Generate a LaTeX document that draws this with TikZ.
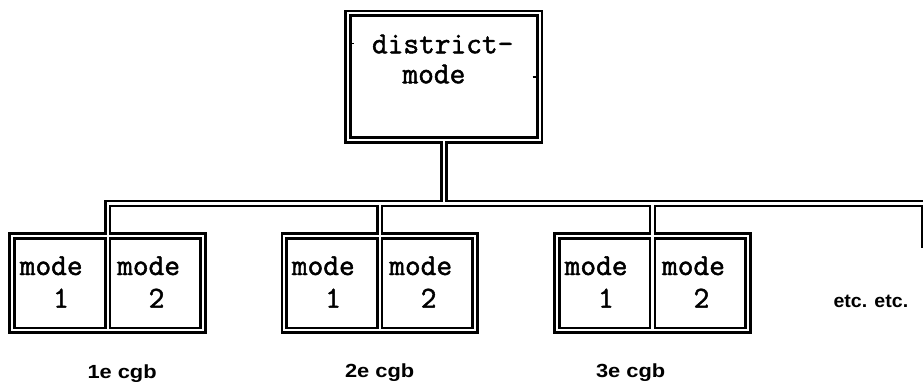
\documentclass[tikz,border=0pt]{standalone}
\usepackage{fontspec}
\newfontfamily\lblfont{Liberation Sans Bold}
\newfontfamily\boxfont[FakeBold=1.6]{Latin Modern Mono}
\newcommand{\widelbl}[1]{\scalebox{1.15}[1]{#1}}
\begin{document}
\begin{tikzpicture}[x=1pt,y=-1pt,
  pipe/.style={draw=black,line width=2.65pt,double=white,double distance=2.2pt,line join=miter},
  frame/.style={rectangle,draw=none,inner sep=0pt,outer sep=0pt},
  grp/.style={frame,minimum width=190.8pt,minimum height=94.3pt},
  tt/.style={inner sep=0pt,outer sep=0pt,font=\fontsize{30.5}{36}\selectfont\boxfont},
  lbl/.style={inner sep=0pt,outer sep=0pt,anchor=base west,font=\fontsize{19}{23}\selectfont\lblfont}]
\useasboundingbox (0,0) rectangle (923,382);

% top box and the three groups (sized to the pipe centre lines)
\node[frame,minimum width=191.7pt,minimum height=126.9pt] (dm) at (443.85,76.75) {};
\node[grp] (g1) at (107.6,283.15) {};
\node[grp] (g2) at (379.7,283.15) {};
\node[grp] (g3) at (652.5,283.15) {};

% bus line
\coordinate (busL) at (107.6,203.5);
\coordinate (busR) at (925,203.5);
\coordinate (tail) at (925,248);

% the whole network as one double-stroked path, so every junction stays open
\draw[pipe]
  (dm.north west) rectangle (dm.south east)
  (dm.south) -- (dm.south |- busL)
  (g1.south) -- (g1.north) -- (busL) -- (busR) -- (tail)
  (g2.south) -- (g2.north |- busL)
  (g3.south) -- (g3.north |- busL)
  (g1.north west) rectangle (g1.south east)
  (g2.north west) rectangle (g2.south east)
  (g3.north west) rectangle (g3.south east);

% small stubs on the inner edge of the top box
\draw[line width=1.2pt] (350.7,43.5) -- (354,43.5);
\draw[line width=1.2pt] (532.7,77) -- (536.5,77);

% texts of the top box
\node[tt,anchor=base west] (dmA) at (372,53.3) {district-};
\node[tt,anchor=base west] (dmB) at (402.5,83.3) {mode};

% texts of the mode boxes
\foreach \g in {g1,g2,g3}{
  \node[tt,anchor=base west] (\g m1) at ([xshift=-87.8pt]\g.center |- 0,275) {mode};
  \node[tt,anchor=base west] (\g m2) at ([xshift=9.6pt]\g.center |- 0,275) {mode};
  \node[tt,anchor=base] (\g n1) at ([xshift=-46.6pt]\g.center |- 0,307.7) {1};
  \node[tt,anchor=base] (\g n2) at ([xshift=48.9pt]\g.center |- 0,307.7) {2};
}

% captions
\node[lbl] (c1) at (87.5,378) {\widelbl{1e cgb}};
\node[lbl] (c2) at (345,377) {\widelbl{2e cgb}};
\node[lbl] (c3) at (596,377) {\widelbl{3e cgb}};
\node[lbl] (etc) at (833.5,307) {\scalebox{1.03}[1]{etc. etc.}};
\end{tikzpicture}
\end{document}
